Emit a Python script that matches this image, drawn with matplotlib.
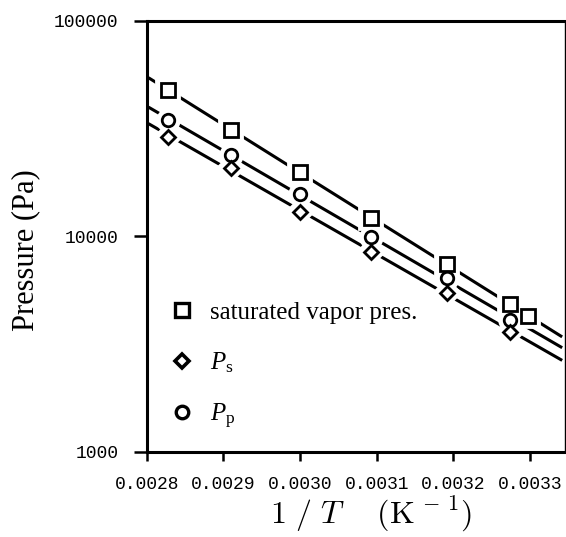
import numpy as np
import matplotlib
matplotlib.use('Agg')
import matplotlib.pyplot as plt
from matplotlib.lines import Line2D
from matplotlib.ticker import FixedLocator, NullLocator

plt.rcParams['mathtext.fontset'] = 'custom'
plt.rcParams['mathtext.rm'] = 'Liberation Serif'
plt.rcParams['mathtext.it'] = 'Liberation Serif:italic'

# data (1/T in K^-1, pressure in Pa)
x_sat = [0.002828, 0.002910, 0.003000, 0.003093, 0.003191, 0.003274, 0.003297]
p_sat = [47900, 31200, 19900, 12200, 7450, 4850, 4290]
x_pp = [0.002828, 0.002910, 0.003000, 0.003093, 0.003191, 0.003274]
p_pp = [34700, 23900, 15750, 9980, 6400, 4100]
x_ps = [0.002828, 0.002910, 0.003000, 0.003093, 0.003191, 0.003274]
p_ps = [29000, 20900, 13000, 8500, 5480, 3620]

x_ticks = [0.0028, 0.0029, 0.0030, 0.0031, 0.0032, 0.0033]
y_ticks = [1000, 10000, 100000]

fig = plt.figure(figsize=(5.66, 5.37), dpi=100)
ax = fig.add_axes([0.2592, 0.1583, 0.739, 0.8026])
ax.set_yscale('log')
ax.set_xlim(0.0028, 0.0033454)
ax.set_ylim(1000, 100000)

# fitted lines (log P vs 1/T)
x_fit = np.array([0.002804, 0.00334])
series = [(x_sat, p_sat, 's', 9.5), (x_pp, p_pp, 'o', 9), (x_ps, p_ps, 'D', 7)]
for xs, ps, m, ms in series:
    k, b = np.polyfit(xs, np.log10(ps), 1)
    ax.plot(x_fit, 10 ** (k * x_fit + b), color='black', lw=2.2, zorder=2)

# white halo so the lines break around the markers
for xs, ps, m, ms in series:
    ax.plot(xs, ps, ls='none', marker=m, ms=ms, mfc='white', mec='white', mew=8.5, zorder=3)
for xs, ps, m, ms in series:
    ax.plot(xs, ps, ls='none', marker=m, ms=ms, mfc='white', mec='black', mew=2.0, zorder=4)

handles = [
    Line2D([], [], ls='none', marker='s', ms=9.5, mfc='white', mec='black', mew=2.4),
    Line2D([], [], ls='none', marker='D', ms=7, mfc='white', mec='black', mew=2.6),
    Line2D([], [], ls='none', marker='o', ms=9, mfc='white', mec='black', mew=2.4),
]
labels = ['saturated vapor pres.', r'$P_\mathrm{s}$', r'$P_\mathrm{p}$']
ax.legend(handles, labels, loc='upper left', bbox_to_anchor=(0.0545, 0.35),
          frameon=False, borderpad=0, borderaxespad=0, handlelength=1.0,
          handletextpad=0.6, labelspacing=1.07,
          prop={'family': 'Liberation Serif', 'size': 18})

ax.xaxis.set_major_locator(FixedLocator(x_ticks))
ax.set_xticklabels(['%.4f' % v for v in x_ticks])
ax.yaxis.set_major_locator(FixedLocator(y_ticks))
ax.yaxis.set_minor_locator(NullLocator())
ax.set_yticklabels([str(v) for v in y_ticks])
for lab in ax.get_xticklabels() + ax.get_yticklabels():
    lab.set_family('Liberation Mono')
    lab.set_fontsize(13)

ax.tick_params(axis='x', direction='out', length=6.5, width=1.8, pad=11)
ax.tick_params(axis='y', direction='out', length=9.5, width=1.8, pad=11)

for s in ['left', 'bottom', 'top']:
    ax.spines[s].set_linewidth(2.2)
ax.spines['right'].set_linewidth(1.0)

ax.set_ylabel('Pressure (Pa)', family='Liberation Serif', fontsize=22)
ax.yaxis.set_label_coords(-0.255, 0.469)
ax.set_xlabel(r'$1\ /\ T\quad\ (\mathrm{K}^{\,-\,1})$', fontsize=23, math_fontfamily='cm')
ax.xaxis.set_label_coords(0.537, -0.10)

fig.savefig('out.png', dpi=100)
